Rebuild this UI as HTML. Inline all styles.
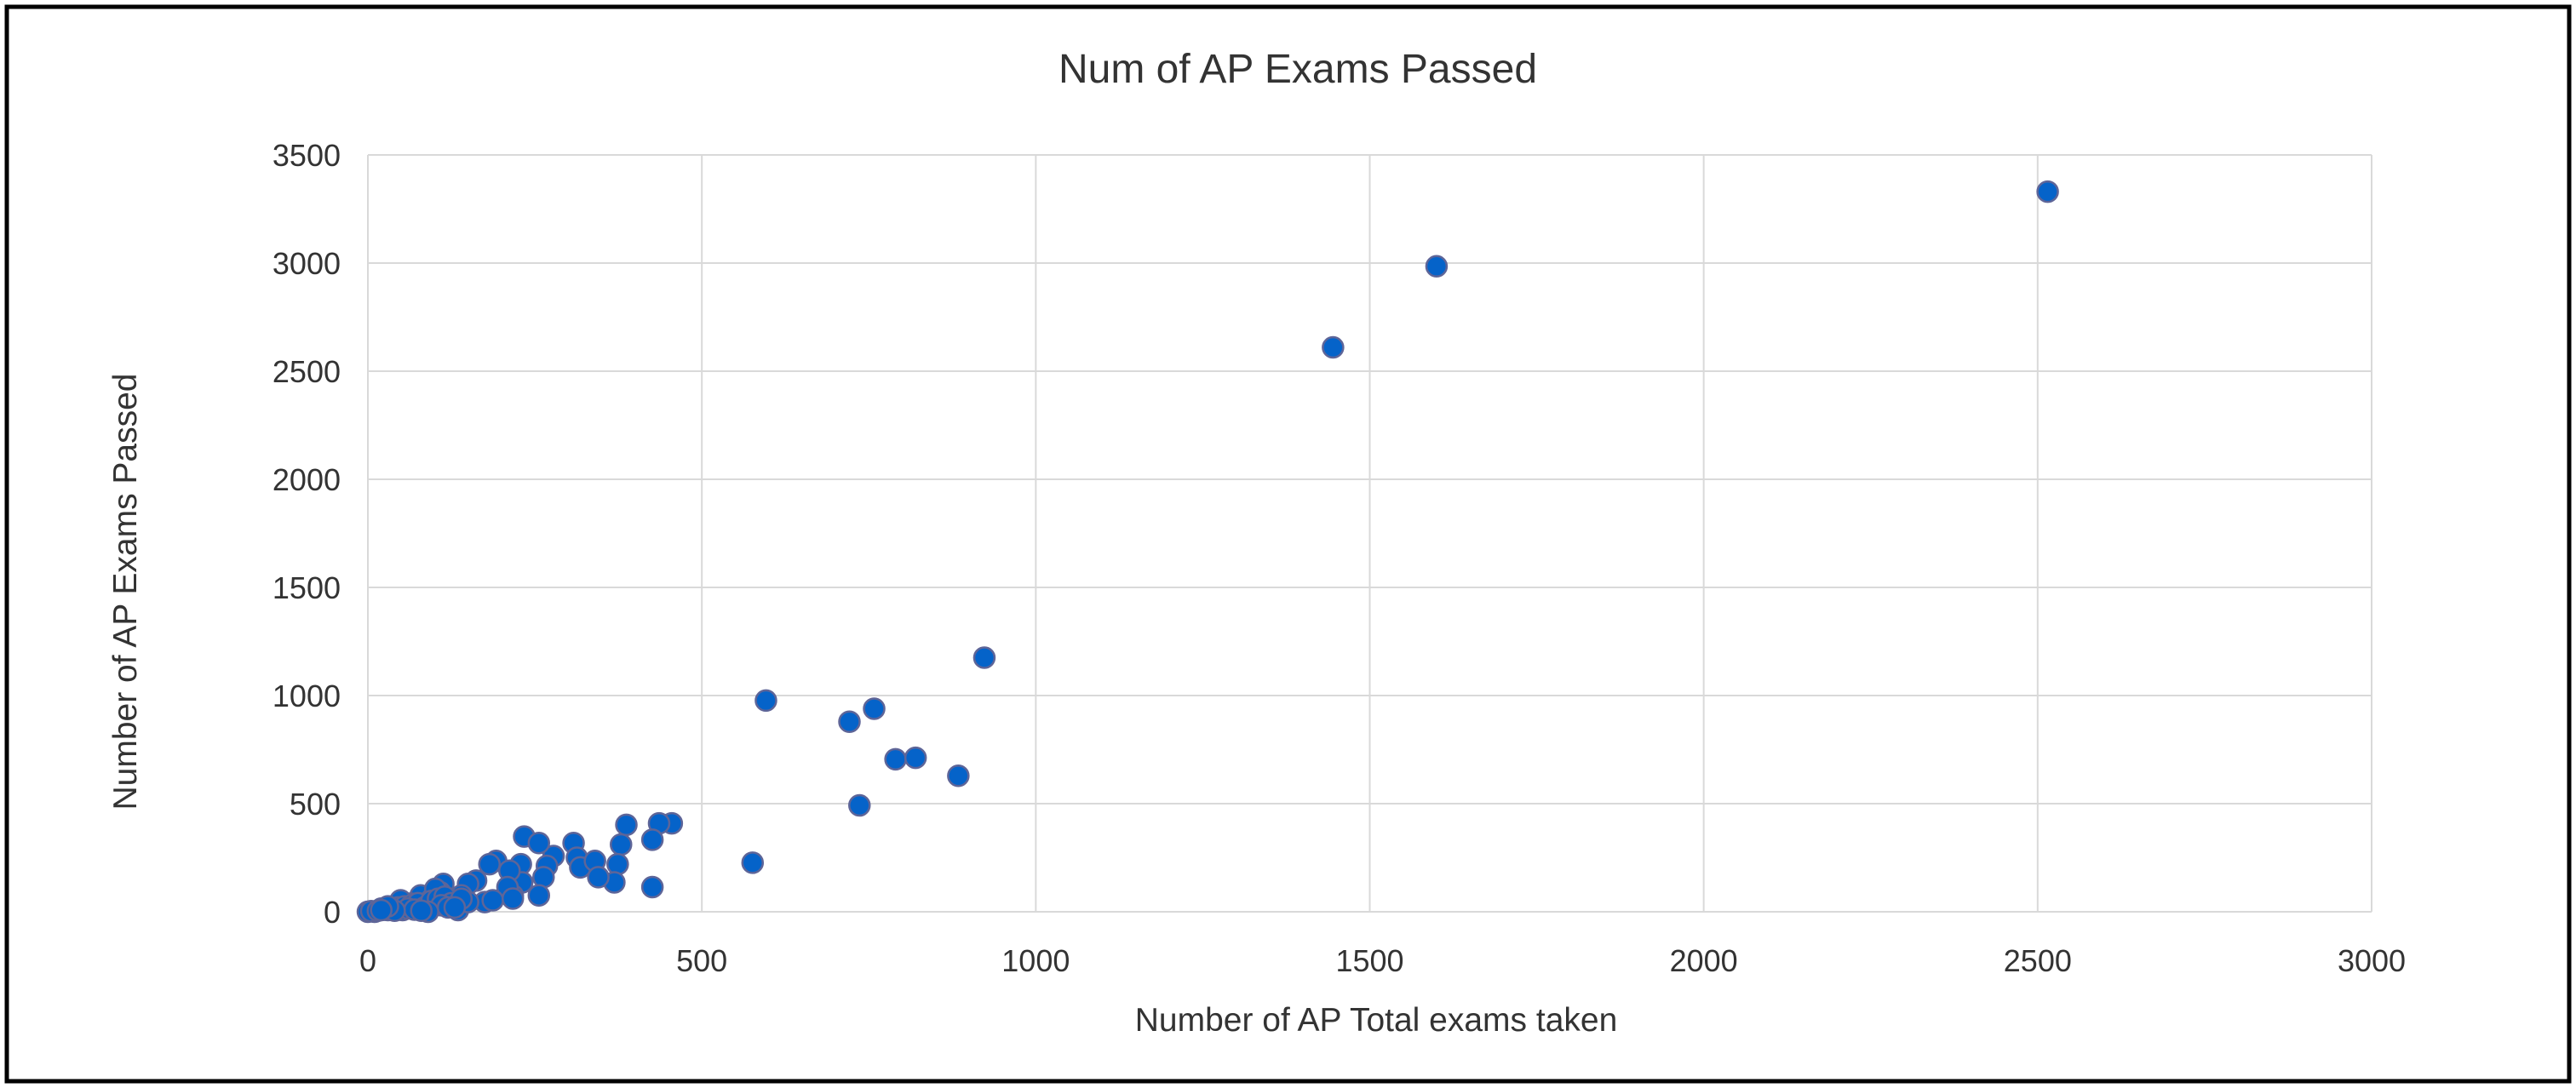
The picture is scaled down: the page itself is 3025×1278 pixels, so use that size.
<!DOCTYPE html>
<html><head><meta charset="utf-8"><style>
html,body{margin:0;padding:0;background:#fff;}
svg{display:block;font-family:"Liberation Sans",sans-serif;}
</style></head><body>
<svg id="chart" width="3025" height="1278" viewBox="0 0 3025 1278" xmlns="http://www.w3.org/2000/svg">
<rect x="8" y="8" width="3009" height="1262" fill="#fff" stroke="#000" stroke-width="5"/>
<text x="1524" y="97" font-size="48" text-anchor="middle" fill="#333">Num of AP Exams Passed</text>
<g id="grid"></g><g id="ticks"></g><g id="points"></g>
<text x="1616" y="1211" font-size="39" text-anchor="middle" fill="#333">Number of AP Total exams taken</text>
<text transform="translate(160,695) rotate(-90)" font-size="39" text-anchor="middle" fill="#333">Number of AP Exams Passed</text>
</svg>
<script>
const xTicks=[0,500,1000,1500,2000,2500,3000];
const yTicks=[0,500,1000,1500,2000,2500,3000,3500];
const xVals=[2515,1600,1445,923,596,721,758,790,820,884,736,576,455,436,387,379,426,426,374,369,308,313,318,340,345,278,234,256,268,263,256,229,231,217,192,182,212,209,175,162,150,140,135,113,108,118,79,89,64,39,49,20,0,10,30,52,96,150,187,217,101,125,
 5,15,25,35,45,55,65,75,85,95,105,115,125,140,60,70,40,30,20,110,120,130,90,80];
const yVals=[3330,2985,2610,1175,977,879,939,705,712,629,492,227,409,409,402,311,333,114,220,136,318,250,205,235,160,258,348,318,212,160,76,220,136,76,235,220,190,114,45,144,129,76,8,129,91,45,76,15,38,23,53,15,0,0,8,8,61,45,53,61,106,53,
 3,5,10,12,20,25,30,40,20,50,60,70,40,60,15,10,5,25,8,30,20,20,0,5];
const X0=432,X1=2785,Y0=1071,Y1=182;
const sx=v=>X0+(v-0)/(3000-0)*(X1-X0);
const sy=v=>Y0-(v-0)/(3500-0)*(Y0-Y1);
const NS="http://www.w3.org/2000/svg";
const grid=document.getElementById('grid'),ticks=document.getElementById('ticks'),pts=document.getElementById('points');
xTicks.forEach(t=>{
 const l=document.createElementNS(NS,'line');
 
 
 l.setAttribute('x1',sx(t));l.setAttribute('x2',sx(t));l.setAttribute('y1',Y1);l.setAttribute('y2',Y0);
 l.setAttribute('stroke','#d9d9d9');l.setAttribute('stroke-width','2');grid.appendChild(l);
 const tx=document.createElementNS(NS,'text');
 
 
 tx.setAttribute('x',sx(t));tx.setAttribute('y',Y0+70);tx.setAttribute('font-size','36');tx.setAttribute('text-anchor','middle');tx.setAttribute('fill','#333');
 tx.textContent=t;ticks.appendChild(tx);
});
yTicks.forEach(t=>{
 const l=document.createElementNS(NS,'line');
 
 
 l.setAttribute('x1',X0);l.setAttribute('x2',X1);l.setAttribute('y1',sy(t));l.setAttribute('y2',sy(t));
 l.setAttribute('stroke','#d9d9d9');l.setAttribute('stroke-width','2');grid.appendChild(l);
 const tx=document.createElementNS(NS,'text');
 
 
 tx.setAttribute('x',X0-32);tx.setAttribute('y',sy(t)+13);tx.setAttribute('font-size','36');tx.setAttribute('text-anchor','end');tx.setAttribute('fill','#333');
 tx.textContent=t;ticks.appendChild(tx);
});
xVals.forEach((v,i)=>{
 const c=document.createElementNS(NS,'circle');
 
 
 c.setAttribute('cx',sx(v));c.setAttribute('cy',sy(yVals[i]));c.setAttribute('r','12');
 c.setAttribute('fill','#0563C9');c.setAttribute('stroke','#5E6598');c.setAttribute('stroke-width','2.5');
 pts.appendChild(c);
});
</script>
</body></html>
